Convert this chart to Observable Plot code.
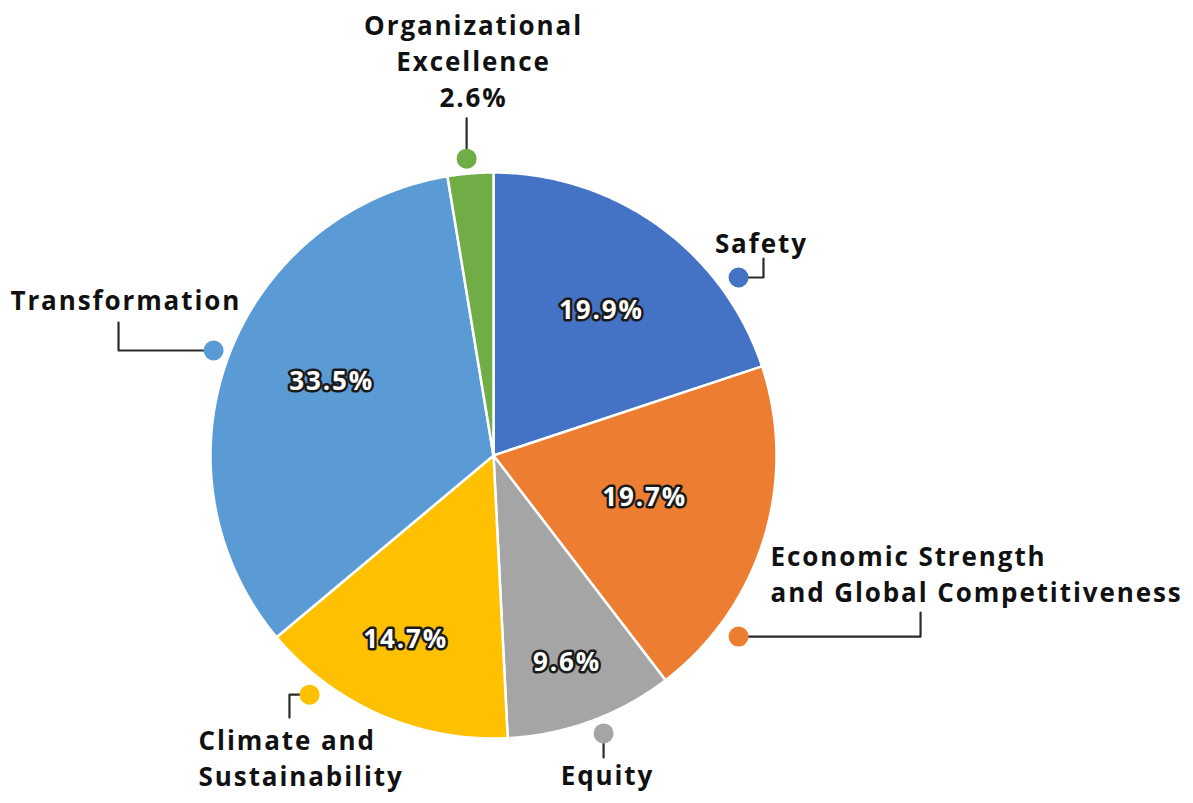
<!DOCTYPE html>
<html>
<head>
<meta charset="utf-8">
<script src="https://cdn.jsdelivr.net/npm/d3@7"></script>
<script src="https://cdn.jsdelivr.net/npm/@observablehq/plot@0.6"></script>
<style>
  html, body { margin: 0; padding: 0; background: #ffffff; }
  #chart svg { display: block; }
  #chart svg text { letter-spacing: 1.9px; }
</style>
</head>
<body>
<div id="chart"></div>
<script>
// ---- data ----
const categories = ["Safety", "Economic Strength and Global Competitiveness", "Equity", "Climate and Sustainability", "Transformation", "Organizational Excellence"];
const values = [19.9, 19.7, 9.6, 14.7, 33.5, 2.6];
const valueLabels = ["19.9%", "19.7%", "9.6%", "14.7%", "33.5%", "2.6%"];
const colors = ["#4472C4", "#ED7D31", "#A5A5A5", "#FFC000", "#5B9BD5", "#70AD47"];

// ---- layout (units of pie radius, centre at 0,0) ----
const W = 1193, H = 803;
const R = 283, CX = 493, CY = 455;
// inner label placement: [radius fraction, angle nudge in degrees]
const innerLabelPlace = [[0.636, 0.6], [0.551, -1.5], [0.777, 0.9], [0.724, 2.1], [0.632, 4.1], null];
const callouts = [
  {name: "Safety", text: "Safety", anchor: "middle", tx: 0.943, ty: 0.756,
   path: [[0.866, 0.629], [0.954, 0.629], [0.954, 0.696]]},
  {name: categories[1], text: "Economic Strength\nand Global Competitiveness", anchor: "start", tx: 0.979, ty: -0.412,
   path: [[0.866, -0.640], [1.509, -0.640], [1.509, -0.555]]},
  {name: "Equity", text: "Equity", anchor: "middle", tx: 0.399, ty: -1.124,
   path: [[0.389, -0.982], [0.389, -1.067]]},
  {name: categories[3], text: "Climate and\nSustainability", anchor: "start", tx: -1.042, ty: -1.065,
   path: [[-0.650, -0.845], [-0.721, -0.845], [-0.721, -0.926]]},
  {name: "Transformation", text: "Transformation", anchor: "start", tx: -1.707, ty: 0.553,
   path: [[-0.989, 0.371], [-1.325, 0.371], [-1.325, 0.470]]},
  {name: categories[5], text: "Organizational\nExcellence\n" + valueLabels[5], anchor: "middle", tx: -0.074, ty: 1.400,
   path: [[-0.095, 1.049], [-0.095, 1.191]]}
];

// ---- derived geometry from values ----
const total = d3.sum(values);
let acc = 0;
const slices = categories.map((name, i) => {
  const a0 = acc / total * 2 * Math.PI;
  acc += values[i];
  const a1 = acc / total * 2 * Math.PI;
  return {name, value: values[i], label: valueLabels[i], a0, a1, mid: (a0 + a1) / 2, place: innerLabelPlace[i]};
});
const polyPoints = [];
for (const s of slices) {
  polyPoints.push({name: s.name, x: 0, y: 0});
  const n = Math.max(4, Math.ceil((s.a1 - s.a0) / (Math.PI / 360)));
  for (let k = 0; k <= n; k++) {
    const a = s.a0 + (s.a1 - s.a0) * k / n;
    polyPoints.push({name: s.name, x: Math.sin(a), y: Math.cos(a)});
  }
  polyPoints.push({name: s.name, x: 0, y: 0});
}
const innerLabels = slices.filter(s => s.place != null).map(s => {
  const a = s.mid + s.place[1] * Math.PI / 180;
  return {label: s.label, x: s.place[0] * Math.sin(a), y: s.place[0] * Math.cos(a)};
});
const leaderPoints = callouts.flatMap(c => c.path.map(([x, y]) => ({name: c.name, x, y})));
const dots = callouts.map(c => ({name: c.name, x: c.path[0][0], y: c.path[0][1]}));

const fontFamily = "'Open Sans', 'DejaVu Sans', sans-serif";

const chart = Plot.plot({
  width: W,
  height: H,
  margin: 0,
  style: {fontFamily, background: "#ffffff"},
  x: {domain: [-CX / R, (W - CX) / R], axis: null},
  y: {domain: [-(H - CY) / R, CY / R], axis: null},
  color: {domain: categories, range: colors},
  marks: [
    Plot.line(polyPoints, {x: "x", y: "y", z: "name", fill: "name", stroke: "#ffffff", strokeWidth: 2.5, strokeLinejoin: "round", curve: "linear"}),
    Plot.line(leaderPoints, {x: "x", y: "y", z: "name", stroke: "#2b2b2b", strokeWidth: 2.2, curve: "linear"}),
    Plot.dot(dots, {x: "x", y: "y", r: 10, fill: "name", stroke: "none"}),
    Plot.text(innerLabels, {x: "x", y: "y", text: "label", dx: 1, fill: "#ffffff", stroke: "#1a1a1a", strokeWidth: 5, paintOrder: "stroke", fontSize: 26, fontWeight: 700}),
    ...callouts.map(c => Plot.text([c], {x: "tx", y: "ty", text: "text", dx: c.anchor === "middle" ? 1 : 0, textAnchor: c.anchor, lineAnchor: "middle", lineHeight: 1.38, fontSize: 26, fontWeight: 700, fill: "#111111"}))
  ]
});
document.getElementById("chart").appendChild(chart);
</script>
</body>
</html>
